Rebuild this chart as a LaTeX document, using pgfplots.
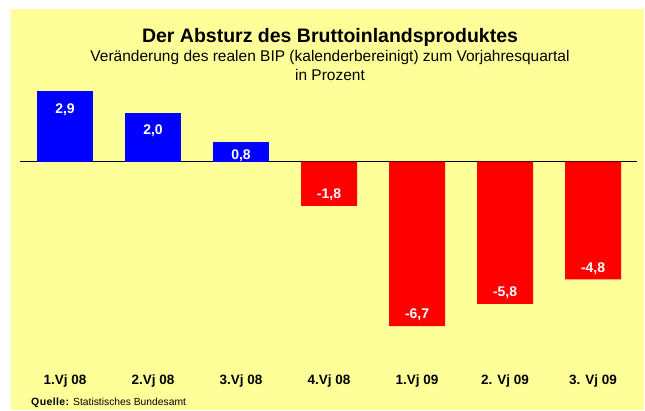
\documentclass[border=0pt]{standalone}
\usepackage{pgfplots}
\pgfplotsset{compat=1.18}
\usepackage{fontspec}
\setmainfont{Liberation Sans}
\definecolor{bg}{HTML}{FFFF99}
\definecolor{barblue}{HTML}{0000FF}
\definecolor{barred}{HTML}{FF0000}
\pgfdeclarelayer{background}
\pgfsetlayers{background,main}
\begin{document}
\begin{tikzpicture}
\begin{axis}[
  width=617pt, height=287pt, scale only axis,
  xmin=-0.51, xmax=6.5, ymin=-8.5, ymax=3.2,
  axis line style={draw=none},
  ytick=\empty,
  extra y ticks={0}, extra y tick labels={},
  extra y tick style={grid=major, grid style={black, line width=1.3pt}, major tick length=0pt},
  xtick={0,1,2,3,4,5,6},
  xticklabels={1.Vj 08, 2.Vj 08, 3.Vj 08, 4.Vj 08, 1.Vj 09, 2. Vj 09, 3. Vj 09},
  major tick length=0pt,
  xticklabel style={font=\bfseries\fontsize{13.5}{15}\selectfont, anchor=center, yshift=-10.7pt},
  ybar, bar width=56pt, bar shift=0pt,
  point meta=explicit symbolic,
  nodes near coords,
  every node near coord/.append style={text=white, font=\bfseries\fontsize{14}{16}\selectfont},
  clip=false,
]
\addplot[fill=barblue, draw=none, nodes near coords align={below}, every node near coord/.append style={yshift=-9.7pt}]
  coordinates {(0,2.9)[2,9]};
\addplot[fill=barblue, draw=none, nodes near coords align={below}, every node near coord/.append style={yshift=-8.3pt}]
  coordinates {(1,2.0)[2,0]};
\addplot[fill=barblue, draw=none, nodes near coords align={below}, every node near coord/.append style={yshift=-4.3pt}]
  coordinates {(2,0.8)[0,8]};
\addplot[fill=barred, draw=none, nodes near coords align={above}, every node near coord/.append style={yshift=1.5pt}]
  coordinates {(3,-1.8)[-1,8] (4,-6.7)[-6,7] (5,-5.8)[-5,8] (6,-4.8)[-4,8]};
\coordinate (O) at (axis cs:0,0);
\end{axis}
\pgfresetboundingbox
\begin{scope}[shift={(O)}, x=1pt, y=1pt, shift={(-65,-248.3)}]
\path[use as bounding box] (0,0) rectangle (645,410);
\begin{pgfonlayer}{background}
\fill[white] (0,0) rectangle (645,410);
\fill[bg] (11,0) rectangle (644,401);
\end{pgfonlayer}
\node[font=\bfseries\fontsize{19.5}{22}\selectfont] at (330,372.5) {Der Absturz des Bruttoinlandsproduktes};
\node[font=\fontsize{15.5}{18}\selectfont] at (330,353) {Veränderung des realen BIP (kalenderbereinigt) zum Vorjahresquartal};
\node[font=\fontsize{15.5}{18}\selectfont] at (330,335) {in Prozent};
\node[anchor=base west, inner sep=0pt, font=\bfseries\fontsize{10.5}{12}\selectfont] at (31,4.3) {Q\kern0.4pt u\kern0.4pt e\kern0.4pt l\kern0.4pt l\kern0.4pt e\kern0.4pt:};
\node[anchor=base west, inner sep=0pt, font=\fontsize{10.3}{12}\selectfont] at (73,4.3) {Statistisches Bundesamt};
\end{scope}
\end{tikzpicture}
\end{document}
